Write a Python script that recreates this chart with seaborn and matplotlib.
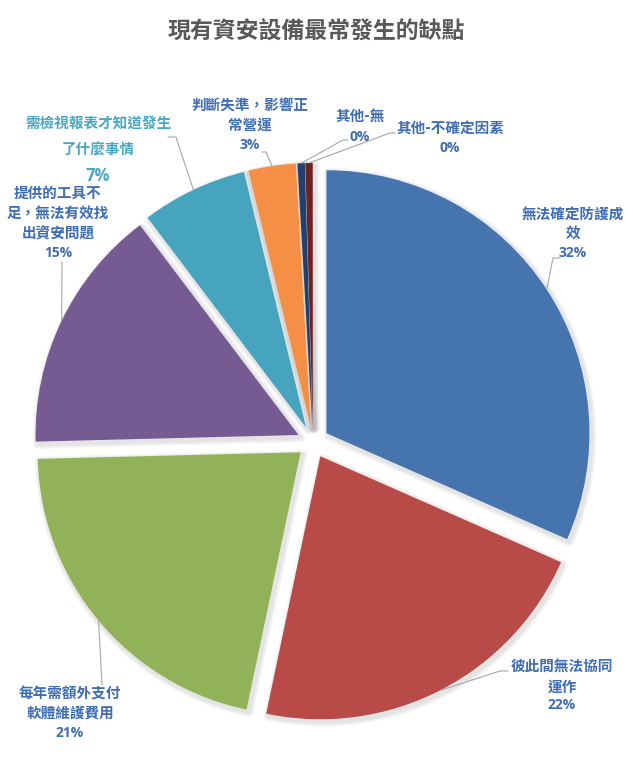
import matplotlib
matplotlib.use('Agg')
import matplotlib.pyplot as plt
from matplotlib.patches import Wedge
import seaborn as sns
import numpy as np

# Data (shares in %, order clockwise from 12 o'clock)
categories = ['無法確定防護成效', '彼此間無法協同運作', '每年需額外支付軟體維護費用',
              '提供的工具不足，無法有效找出資安問題', '需檢視報表才知道發生了什麼事情',
              '判斷失準，影響正常營運', '其他-無', '其他-不確定因素']
shares = [31.6, 21.7, 21.3, 15.1, 6.5, 2.9, 0.45, 0.45]
pct_labels = ['32%', '22%', '21%', '15%', '7%', '3%', '0%', '0%']
label_lines = [['無法確定防護成', '效'],
               ['彼此間無法協同', '運作'],
               ['每年需額外支付', '軟體維護費用'],
               ['提供的工具不', '足，無法有效找', '出資安問題'],
               ['需檢視報表才知道發生', '了什麼事情'],
               ['判斷失準，影響正', '常營運'],
               ['其他-無'],
               ['其他-不確定因素']]
title = '現有資安設備最常發生的缺點'

colors = ['#4674AF', '#B84A48', '#92B25A', '#765A92', '#46A4BE', '#F48F45', '#22406B', '#6E2322']
text_blue = '#3F6DB3'
text_teal = '#48A7C2'

sns.set_theme(style='white')
plt.rcParams['font.family'] = ['Noto Sans CJK TC', 'DejaVu Sans']

W, H = 633, 768
CX, CY, R = 313, 442, 263   # pie centre / radius in pixels


def px(x, y):
    return ((x - CX) / R, (CY - y) / R)


# label layout in pixels: centre x, line ys, percent y, leader points (label side)
layout = [
    (573, [215, 233], 253, [(560, 258), (553, 258)]),
    (562, [667, 687], 705, [(508, 671), (500, 671)]),
    (70, [694, 713], 733, [(102, 685)]),
    (58, [193, 214, 233], 253, [(62, 262)]),
    (98, [123, 150], 176, [(168, 137), (176, 137)]),
    (250, [105, 125], 145, [(262, 152), (266, 152)]),
    (360, [117], 137, [(348, 140), (343, 140)]),
    (450, [128], 148, [(395, 133), (390, 133)]),
]

fig = plt.figure(figsize=(W / 100, H / 100), dpi=100)
ax = fig.add_axes([0, 0, 1, 1])

wedges, _ = ax.pie(shares, colors=colors, startangle=90, counterclock=False,
                   explode=[0.061] * len(shares), radius=1,
                   wedgeprops=dict(linewidth=0, zorder=3))

# soft drop shadow under every slice
for w in wedges:
    for lw in [7, 5, 3]:
        sx, sy = w.center[0] + 2.0 / R, w.center[1] - 2.5 / R
        sh = Wedge((sx, sy), w.r, w.theta1, w.theta2, facecolor='none',
                   edgecolor='black', linewidth=lw, alpha=0.035, zorder=1,
                   joinstyle='round')
        ax.add_patch(sh)

ax.set_xlim(-CX / R, (W - CX) / R)
ax.set_ylim(-(H - CY) / R, CY / R)
ax.set_aspect('equal')
ax.axis('off')

for i, (w, (lx, ys, py, pts)) in enumerate(zip(wedges, layout)):
    col = text_teal if i == 4 else text_blue
    for line, y in zip(label_lines[i], ys):
        ax.text(*px(lx, y), line, ha='center', va='center', fontsize=10.5,
                color=col, fontweight='bold', zorder=5)
    ax.text(*px(lx, py), pct_labels[i], ha='center', va='center',
            fontsize=12 if i == 4 else 10, color=col, fontweight='bold',
            family=['Open Sans', 'DejaVu Sans'], zorder=5)
    # leader line to the middle of the wedge's outer edge
    mid = np.deg2rad((w.theta1 + w.theta2) / 2)
    ax_ = w.center[0] + w.r * np.cos(mid)
    ay_ = w.center[1] + w.r * np.sin(mid)
    xs = [px(*p)[0] for p in pts] + [ax_]
    ys_ = [px(*p)[1] for p in pts] + [ay_]
    ax.plot(xs, ys_, color='#A6A6A6', linewidth=0.8, zorder=4)

fig.text(0.5, 1 - 32 / H, title, ha='center', va='center', fontsize=16.5,
         fontweight='bold', color='#595959')

fig.savefig('out.png', dpi=100)
